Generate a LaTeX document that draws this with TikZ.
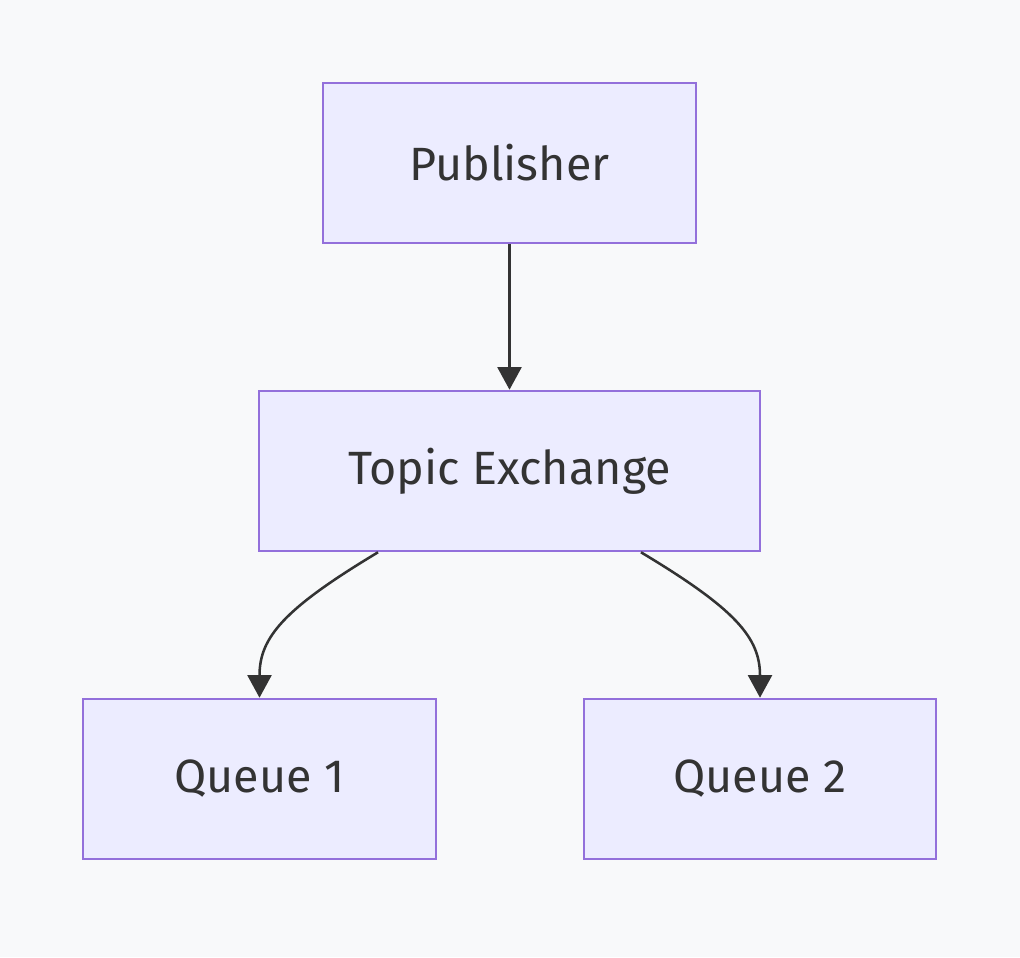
\documentclass[tikz,border=0pt]{standalone}
\usepackage{fontspec}
\setmainfont{Fira Sans}
\usetikzlibrary{arrows.meta,calc}
\definecolor{bg}{HTML}{F8F9FA}
\definecolor{nodefill}{HTML}{ECECFF}
\definecolor{nodeline}{HTML}{9370DB}
\definecolor{ink}{HTML}{333333}
\begin{document}
\begin{tikzpicture}[x=0.75pt,y=-0.75pt,
  box/.style={draw=nodeline,fill=nodefill,line width=1.9pt,minimum height=120pt,
    text=ink,font=\fontsize{35}{42}\selectfont,inner sep=0pt},
  link/.style={draw=ink,line width=1.9pt,-{Triangle[length=17pt,width=18pt]}}]
\fill[bg] (0,0) rectangle (1020,957);
\useasboundingbox (0,0) rectangle (1020,957);
\node[box,minimum width=280pt] (pub) at (509.5,163) {Publisher};
\node[box,minimum width=375.75pt] (te) at (509.5,471) {Topic Exchange};
\node[box,minimum width=264.75pt] (q1) at (259.5,779) {Queue 1};
\node[box,minimum width=264pt] (q2) at (760,779) {Queue 2};
\draw[link] (pub.south) -- (te.north);
\coordinate (a1) at ([xshift=-98.6pt]te.south);
\coordinate (a2) at ([xshift=98.6pt]te.south);
\draw[link] (a1) .. controls ($(a1)+(-95,57)$) and ($(q1.north)+(0,-60)$) .. (q1.north);
\draw[link] (a2) .. controls ($(a2)+(95,57)$) and ($(q2.north)+(0,-60)$) .. (q2.north);
\end{tikzpicture}
\end{document}
